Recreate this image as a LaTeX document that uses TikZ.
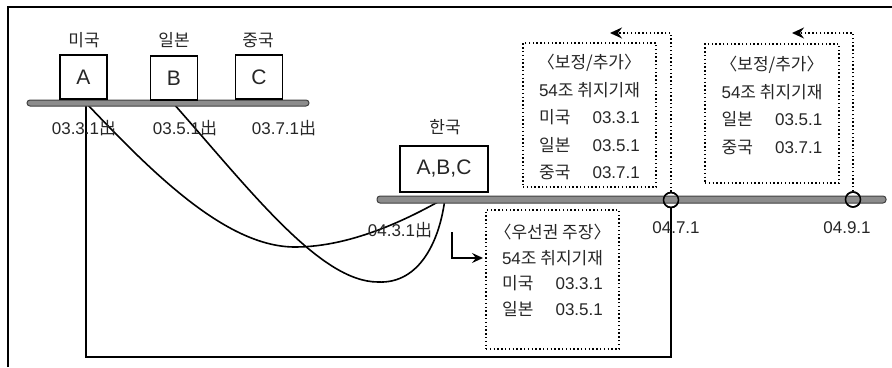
\documentclass[tikz,border=0pt]{standalone}
\usepackage{fontspec}
\setmainfont{Liberation Sans}
\newfontfamily\kr{Noto Sans CJK KR}
\usetikzlibrary{arrows.meta}
\begin{document}
\begin{tikzpicture}[x=1pt,y=-1pt,
  lbl/.style={font=\fontsize{17}{20}\selectfont, text=black!85, inner sep=0pt},
  letterbox/.style={draw, line width=1.6pt, minimum width=47pt, minimum height=44pt, inner sep=0pt, font=\fontsize{21}{24}\selectfont, text=black!85},
  bar/.style={draw=black!75, fill=black!45, line width=1pt, rounded corners=3pt},
  dotbox/.style={draw, line width=1.5pt, dash pattern=on 1.4pt off 2.4pt, inner sep=0pt},
  boxtext/.style={font=\fontsize{17}{27.5}\selectfont, align=center, inner sep=0pt, text=black!85},
  conn/.style={line width=1.6pt},
  dotarrow/.style={line width=1.5pt, dash pattern=on 1.4pt off 2.4pt, -{Stealth[length=12pt,width=11pt,inset=4pt]}},
  ring/.style={draw, circle, line width=1.5pt, minimum size=15pt, inner sep=0pt}
]
\useasboundingbox (0,0) rectangle (892,367);
% frame
\draw[line width=2pt] (8,367) -- (8,7) -- (892,7);

% attachment points
\coordinate (pA) at (86,103);
\coordinate (pB) at (173,103);
\coordinate (pK) at (445,198);
\coordinate (low) at (86,357);

% circles on the Korean timeline
\node[ring] (c1) at (671,200) {};
\node[ring] (c2) at (853,199.5) {};

% curves and connectors
\draw[conn] (pA) .. controls (150,170) and (225,247) .. (295,247) .. controls (355,247) and (415,215) .. (pK);
\draw[conn] (pB) .. controls (250,190) and (320,282) .. (378,282) .. controls (420,284) and (440,240) .. (pK);
\draw[conn] (pA) -- (low) -| (c1.south);

% timelines
\draw[bar] (27,100) rectangle (309,106);
\draw[bar] (377,196) rectangle (886,203);
\node[ring] at (c1) {};
\node[ring] at (c2) {};

% boxes
\node[letterbox] (A) at (83.5,77) {A};
\node[letterbox] (B) at (174,78) {B};
\node[letterbox] (C) at (259,77) {C};
\node[letterbox, minimum width=88pt, minimum height=46pt] (K) at (444,169) {A,B,C};

% labels
\node[lbl] (lUS) at (84,40) {\kr 미국};
\node[lbl] (lJP) at (174,40) {\kr 일본};
\node[lbl] (lCN) at (258,40) {\kr 중국};
\node[lbl] (lKR) at (445,127) {\kr 한국};
\node[lbl] (d1) at (84,128) {03.3.1{\kr 出}};
\node[lbl] (d2) at (185,128) {03.5.1{\kr 出}};
\node[lbl] (d3) at (284,128) {03.7.1{\kr 出}};
\node[lbl] (d4) at (400,230) {04.3.1{\kr 出}};
\node[lbl] (d5) at (676,228) {04.7.1};
\node[lbl] (d6) at (847,228) {04.9.1};

% dotted boxes
\node[dotbox, minimum width=133pt, minimum height=144pt] (b1) at (589.5,115) {};
\node[dotbox, minimum width=134pt, minimum height=139pt] (b2) at (772,113.5) {};
\node[dotbox, minimum width=133pt, minimum height=139pt] (b3) at (552.5,279.5) {};

\node[boxtext, anchor=north] (t1) at (589.5,54) {{\kr 〈보정/추가〉}\\ 54{\kr 조 취지기재}\\ {\kr 미국}\hspace{1.3em}03.3.1\\ {\kr 일본}\hspace{1.3em}03.5.1\\ {\kr 중국}\hspace{1.3em}03.7.1};
\node[boxtext, anchor=north] (t2) at (772,56) {{\kr 〈보정/추가〉}\\ 54{\kr 조 취지기재}\\ {\kr 일본}\hspace{1.3em}03.5.1\\ {\kr 중국}\hspace{1.3em}03.7.1};
\node[boxtext, anchor=north, font=\fontsize{17}{25.5}\selectfont] (t3) at (552.5,224) {{\kr 〈우선권 주장〉}\\ 54{\kr 조 취지기재}\\ {\kr 미국}\hspace{1.3em}03.3.1\\ {\kr 일본}\hspace{1.3em}03.5.1};

% dotted arrows
\coordinate (h1) at (610,33);
\coordinate (h2) at (792,33);
\draw[dotarrow] (c1.north) |- (h1);
\draw[dotarrow] (c2.north) |- (h2);

% L arrow
\coordinate (Ls) at (452,232);
\coordinate (Le) at (483,258);
\draw[line width=2pt, -{Stealth[length=11pt,width=10pt,inset=4pt]}] (Ls) |- (Le);
\end{tikzpicture}
\end{document}
